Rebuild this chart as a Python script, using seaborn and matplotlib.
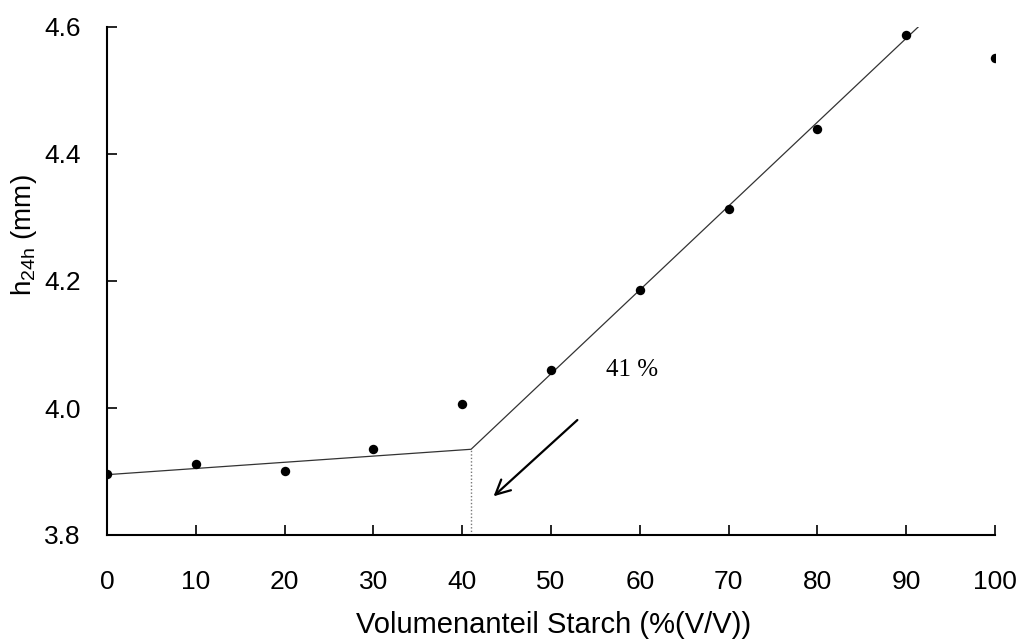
import matplotlib
matplotlib.use("Agg")
import matplotlib.pyplot as plt
import seaborn as sns
import pandas as pd

# Measured heights after 24 h vs. starch volume fraction
starch_pct = [0, 10, 20, 30, 40, 50, 60, 70, 80, 90, 100]
h24h_mm = [3.896, 3.912, 3.901, 3.936, 4.007, 4.060, 4.186, 4.314, 4.440, 4.588, 4.551]

# Two-segment linear fit with breakpoint at 41 %
fit_x = [0, 41, 91.5]
fit_y = [3.895, 3.935, 4.602]
break_x = 41
break_y = 3.935

x_ticks = [0, 10, 20, 30, 40, 50, 60, 70, 80, 90, 100]
y_ticks = [3.8, 4.0, 4.2, 4.4, 4.6]

sns.set_style("ticks")
plt.rcParams["font.family"] = ["Liberation Sans", "DejaVu Sans"]
plt.rcParams["mathtext.fontset"] = "custom"
plt.rcParams["mathtext.rm"] = "Liberation Sans"
plt.rcParams["mathtext.it"] = "Liberation Sans"

fig = plt.figure(figsize=(10.28, 6.43), dpi=100)
ax = fig.add_axes([107 / 1028, 1 - 535 / 643, 888 / 1028, 508 / 643])

df_pts = pd.DataFrame({"x": starch_pct, "y": h24h_mm})
df_fit = pd.DataFrame({"x": fit_x, "y": fit_y})

sns.lineplot(data=df_fit, x="x", y="y", ax=ax, color="#333333", lw=0.9,
             sort=False, estimator=None)
sns.scatterplot(data=df_pts, x="x", y="y", ax=ax, color="black", s=46,
                edgecolor="black", linewidth=0, zorder=5)

# breakpoint marker line
ax.plot([break_x, break_x], [3.8, break_y], color="#777777", lw=1.0,
        ls=(0, (1, 1.5)))

ax.annotate("", xy=(43.3, 3.858), xytext=(53.2, 3.984),
            arrowprops=dict(arrowstyle="->", color="black", lw=1.6,
                            mutation_scale=26))
ax.text(59.1, 4.06, "41 %", fontsize=18, family="Liberation Serif",
        ha="center", va="center", color="black")

ax.set_xlim(0, 100)
ax.set_ylim(3.8, 4.6)
ax.set_xticks(x_ticks)
ax.set_yticks(y_ticks)
ax.set_xticklabels([str(v) for v in x_ticks])
ax.set_yticklabels([f"{v:.1f}" for v in y_ticks])
ax.tick_params(axis="both", direction="in", length=7, width=1.2,
               labelsize=19, colors="black")
ax.tick_params(axis="x", pad=25)
ax.tick_params(axis="y", pad=19)

for side in ("top", "right"):
    ax.spines[side].set_visible(False)
for side in ("left", "bottom"):
    ax.spines[side].set_linewidth(1.5)
    ax.spines[side].set_color("black")

ax.set_xlabel("Volumenanteil Starch (%(V/V))", fontsize=21, color="black")
ax.set_ylabel(r"h$_{\mathregular{24h}}$ (mm)", fontsize=20, color="black")
ax.xaxis.set_label_coords(0.503, -0.15)
ax.yaxis.set_label_coords(-0.077, 0.59)

fig.savefig("out.png", dpi=100)
